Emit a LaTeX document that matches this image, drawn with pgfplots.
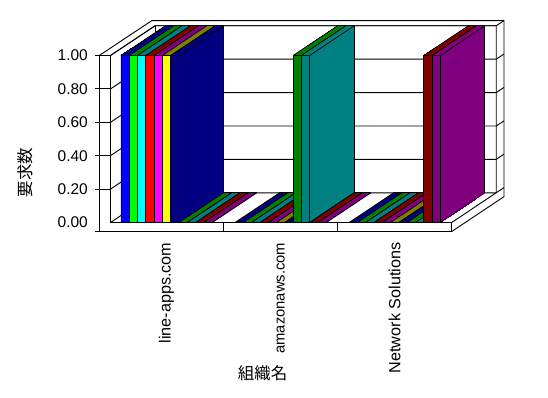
\documentclass[border=0pt]{standalone}
\usepackage{pgfplots}
\pgfplotsset{compat=1.18}
\usepackage{pgfplotstable}
\usepackage{fontspec}
\setmainfont{Liberation Sans}
\newfontfamily\cjk{Noto Sans CJK JP}

\pgfplotstableread{
cat s0 s1 s2 s3 s4 s5 s6 s7 s8 s9 s10
0   1  1  1  1  1  1  1  0  0  0  0
1   0  0  0  0  0  0  0  1  1  0  0
2   0  0  0  0  0  0  0  0  0  1  1
}\datatable

\definecolor{c0}{HTML}{0000FF}\definecolor{d0}{HTML}{000080}
\definecolor{c1}{HTML}{00FF00}\definecolor{d1}{HTML}{008000}
\definecolor{c2}{HTML}{00FFFF}\definecolor{d2}{HTML}{008080}
\definecolor{c3}{HTML}{FF0000}\definecolor{d3}{HTML}{800000}
\definecolor{c4}{HTML}{FF00FF}\definecolor{d4}{HTML}{800080}
\definecolor{c5}{HTML}{FFFF00}\definecolor{d5}{HTML}{808000}
\definecolor{c6}{HTML}{000080}\definecolor{d6}{HTML}{000080}
\definecolor{c7}{HTML}{008000}\definecolor{d7}{HTML}{008000}
\definecolor{c8}{HTML}{008080}\definecolor{d8}{HTML}{008080}
\definecolor{c9}{HTML}{800000}\definecolor{d9}{HTML}{800000}
\definecolor{c10}{HTML}{800080}\definecolor{d10}{HTML}{800080}

% #1 column, #2 bar shift, #3 front colour, #4 depth colour
\newcommand{\barseries}[4]{%
  \addplot[ybar, bar width=0.072727, bar shift=#2, fill=#4, draw=black, line width=0.7pt,
           xshift=44.5pt, yshift=29.7pt] table[x=cat,y=#1]{\datatable};
  \pgfplotsinvokeforeach{44,43,...,1}{%
    \addplot[ybar, bar width=0.072727, bar shift=#2, fill=#4, draw=#4, line width=0.8pt,
             xshift=##1*0.98889pt, yshift=##1*0.66pt] table[x=cat,y=#1]{\datatable};
  }
  \addplot[-, draw=black, line width=0.7pt, quiver={u=0.39011, v=0.17784}]
     table[x expr=\thisrow{cat}+#2-0.036364, y=#1]{\datatable};
  \addplot[-, draw=black, line width=0.7pt, quiver={u=0.39011, v=0.17784}]
     table[x expr=\thisrow{cat}+#2+0.036364, y=#1]{\datatable};
  \addplot[-, draw=black, line width=0.7pt, quiver={u=0.39011, v=0.17784}]
     table[x expr=\thisrow{cat}+#2+0.036364, y expr=0]{\datatable};
  \addplot[ybar, bar width=0.072727, bar shift=#2, fill=#3, draw=black, line width=0.7pt]
     table[x=cat,y=#1]{\datatable};
}

\begin{document}
\begin{tikzpicture}[line width=0.9pt]
\begin{scope}[x=1pt,y=-1pt]
\path[use as bounding box] (0,0) rectangle (548,398);
% frame: back wall
\draw (99.3,55.5) -- (151.7,20.7) -- (504,20.7) -- (504,196.7) -- (451.7,231.5);
\draw (110.5,55.5) -- (155,25.8) -- (496.2,25.8) -- (496.2,192.8) -- (451.7,222.5);
\draw (155,25.8) -- (155,192.8);
\foreach \y in {25.8,59.2,92.6,126.0,159.4,192.8}{
  \draw (155,\y) -- (496.2,\y) -- (504,\y-5.2);
}
\foreach \y in {55.5,88.9,122.3,155.7,189.1,222.5}{
  \draw (110.5,\y) -- (155,\y-29.7);
}
\foreach \y in {55.5,88.9,122.3,155.7,189.1}{
  \draw (95,\y) -- (110.5,\y);
}
% front wall and floor strip
\draw (95,231.5) -- (451.7,231.5) -- (451.7,222.5) -- (110.5,222.5) -- (110.5,55.5) -- (99.3,55.5) -- (99.3,231.5);
\draw (223.6,222.5) -- (223.6,231.5);
\draw (337.6,222.5) -- (337.6,231.5);
\node[rotate=90, inner sep=0pt, font=\cjk\fontsize{16.5}{18}\selectfont] at (25,172.5) {要求数};
\node[inner sep=0pt, font=\cjk\fontsize{16.5}{18}\selectfont] at (262.5,373.5) {組織名};
\end{scope}
\begin{axis}[
  at={(109.5pt,-222.5pt)}, anchor=south west,
  scale only axis, width=342.2pt, height=167pt,
  xmin=-0.5, xmax=2.5, ymin=0, ymax=1,
  clip=false,
  axis line style={draw=none}, tick style={draw=none},
  xtick={0,1,2},
  xticklabels={line-apps.com, {\fontsize{14.8}{18}\selectfont amazonaws.com}, Network Solutions},
  ytick={0,0.2,0.4,0.6,0.8,1},
  yticklabels={0.00,0.20,0.40,0.60,0.80,1.00},
  yticklabel style={anchor=east, inner sep=0pt, xshift=-21.5pt, font=\fontsize{15.5}{18}\selectfont},
  xticklabel style={yshift=-20pt, rotate=90, anchor=east, inner sep=0pt, font=\fontsize{16.2}{18}\selectfont},
]
\barseries{s0}{-0.363636}{c0}{d0}
\barseries{s1}{-0.290909}{c1}{d1}
\barseries{s2}{-0.218182}{c2}{d2}
\barseries{s3}{-0.145455}{c3}{d3}
\barseries{s4}{-0.072727}{c4}{d4}
\barseries{s5}{0}{c5}{d5}
\barseries{s6}{0.072727}{c6}{d6}
\barseries{s7}{0.145455}{c7}{d7}
\barseries{s8}{0.218182}{c8}{d8}
\barseries{s9}{0.290909}{c9}{d9}
\barseries{s10}{0.363636}{c10}{d10}
\end{axis}
\end{tikzpicture}
\end{document}
